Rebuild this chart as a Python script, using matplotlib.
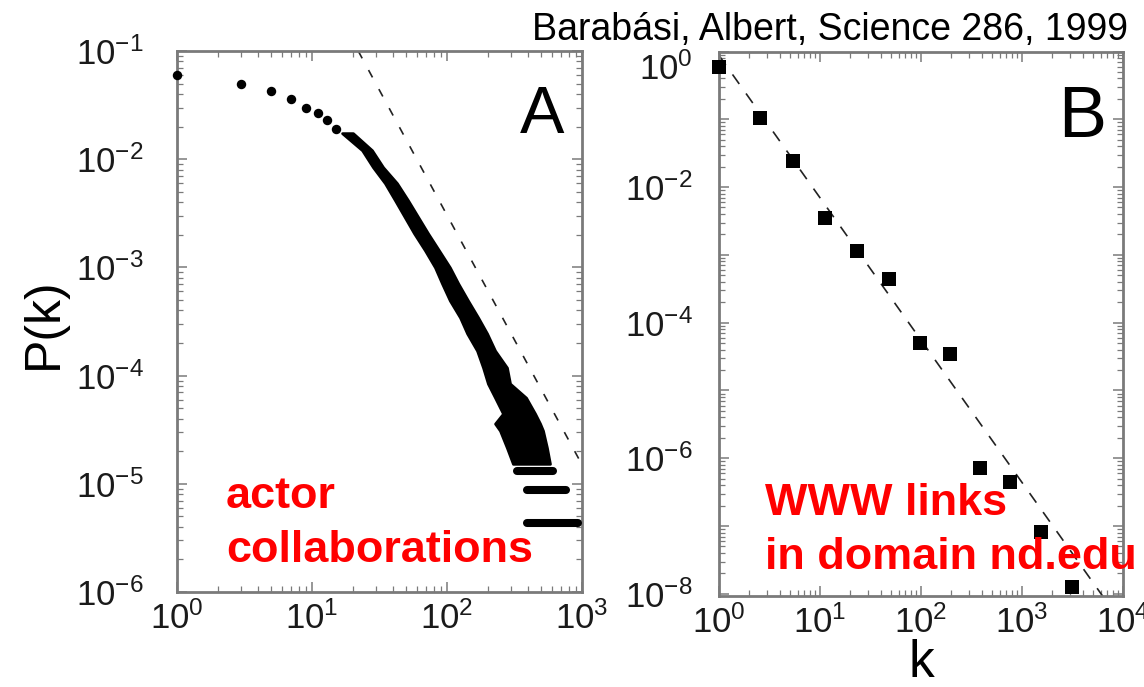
import matplotlib
matplotlib.use('Agg')
import matplotlib.pyplot as plt
import matplotlib.transforms as mtransforms
from matplotlib.ticker import FixedLocator, FuncFormatter, LogLocator, NullFormatter
import numpy as np

plt.rcParams['font.family'] = ['Liberation Sans', 'DejaVu Sans']
plt.rcParams['mathtext.fontset'] = 'custom'
plt.rcParams['mathtext.rm'] = 'Liberation Sans'
plt.rcParams['mathtext.default'] = 'regular'

# --- panel A: actor collaborations ---
actor_k = [1, 3, 5, 7, 9, 11, 13, 15]
actor_p = [0.060, 0.050, 0.0426, 0.0357, 0.0299, 0.0265, 0.0229, 0.0192]

# dense part of the distribution, read as left / right edge of the cloud at each P
band_p = [0.01741, 0.01211, 0.00843, 0.00600, 0.00417, 0.002065, 0.001436, 0.001,
          7.11e-4, 4.94e-4, 3.44e-4, 2.45e-4, 1.70e-4, 1.185e-4, 8.43e-5, 6.25e-5,
          4.45e-5, 3.60e-5, 3.10e-5, 2.15e-5, 1.53e-5]
band_k_lo = [16.7, 23.5, 28.3, 34.7, 41.2, 57.0, 68.7, 81.5, 91.8, 105, 125, 141,
             167, 185, 201, 227, 260, 227, 247, 278, 308]
band_k_hi = [20.1, 27.8, 33.6, 42.6, 51.4, 72.3, 87.2, 105, 121, 143, 170, 198,
             227, 278, 293, 385, 449, 489, 514, 550, 579]

# horizontal runs in the tail (1, 2 and 3 actors per degree)
tail_p = [4.35e-6, 8.7e-6, 1.3e-5]
tail_k_lo = [392, 392, 328]
tail_k_hi = [933, 755, 610]

# dashed power law, gamma ~ 2.3
fit_a_k = [22, 1000]
fit_a_p = [0.1, 1.5e-5]

# --- panel B: WWW links in nd.edu ---
www_k = [1, 2.52, 5.44, 11.3, 23.5, 47.9, 97.5, 193, 384, 760, 1530, 3150]
www_p = [0.60, 0.106, 0.0243, 0.00347, 0.00114, 4.37e-4, 5.0e-5, 3.4e-5,
         7.1e-7, 4.4e-7, 8.3e-8, 1.28e-8]

# dashed power law, gamma ~ 2.1
fit_b_k = [1, 1e4]
fit_b_p = [0.875, 3.5e-9]

W, H = 1144, 687
fig = plt.figure(figsize=(W / 100, H / 100), dpi=100)

spine_col = '#7a7a7a'


def px_axes(left, top, right, bottom):
    return fig.add_axes([left / W, 1 - bottom / H, (right - left) / W, (bottom - top) / H])


def style(ax, ypad):
    ax.set_xscale('log')
    ax.set_yscale('log')
    for s in ax.spines.values():
        s.set_color(spine_col)
        s.set_linewidth(2.0)
    ax.tick_params(which='both', direction='in', top=True, right=True,
                   color=spine_col, labelsize=25, labelcolor='#1a1a1a')
    ax.tick_params(which='major', length=7, width=1.1)
    ax.tick_params(which='minor', length=4, width=0.9)
    ax.tick_params(axis='y', pad=ypad)
    ax.tick_params(axis='x', pad=7)
    ax.xaxis.set_minor_locator(LogLocator(base=10, subs=range(2, 10), numticks=50))
    ax.yaxis.set_minor_locator(LogLocator(base=10, subs=range(2, 10), numticks=50))
    ax.xaxis.set_minor_formatter(NullFormatter())
    ax.yaxis.set_minor_formatter(NullFormatter())


def pow_label(v, pos):
    e = int(round(np.log10(v)))
    return r'$10^{%d}$' % e


# panel A
axA = px_axes(177, 51, 582, 592)
style(axA, 24)
axA.set_xlim(1, 1e3)
axA.set_ylim(1e-6, 1e-1)
axA.xaxis.set_major_locator(FixedLocator([1, 10, 100, 1000]))
axA.yaxis.set_major_locator(FixedLocator([1e-6, 1e-5, 1e-4, 1e-3, 1e-2, 1e-1]))
axA.xaxis.set_major_formatter(FuncFormatter(pow_label))
axA.yaxis.set_major_formatter(FuncFormatter(pow_label))

axA.plot(fit_a_k, fit_a_p, color='#222222', lw=1.2, ls=(0, (5, 8)), zorder=2)
axA.fill_betweenx(band_p, band_k_lo, band_k_hi, color='black', lw=2, zorder=3)
axA.plot(actor_k, actor_p, 'o', color='black', ms=6.8, mew=0, zorder=3, clip_on=False)
hl = axA.hlines(tail_p, tail_k_lo, tail_k_hi, colors='black', lw=5.8, zorder=3)
hl.set_capstyle('round')

fig.text(520 / W, 1 - 133 / H, 'A', fontsize=48, ha='left', va='baseline')

# panel B
axB = px_axes(719, 51.5, 1123, 596)
style(axB, 19)
axB.set_xlim(1, 1e4)
axB.set_ylim(9.3e-9, 1)
axB.xaxis.set_major_locator(FixedLocator([1, 10, 100, 1000, 1e4]))
axB.yaxis.set_major_locator(FixedLocator([10.0 ** e for e in range(-8, 1)]))
axB.xaxis.set_major_formatter(FuncFormatter(pow_label))
axB.yaxis.set_major_formatter(
    FuncFormatter(lambda v, pos: pow_label(v, pos) if int(round(np.log10(v))) % 2 == 0 else ''))

axB.plot(fit_b_k, fit_b_p, color='#222222', lw=1.2, ls=(0, (7, 7)), zorder=2)
axB.plot(www_k, www_p, 's', color='black', ms=10, mew=0, zorder=3, clip_on=False)

fig.text(1058 / W, 1 - 137 / H, 'B', fontsize=52, ha='left', va='baseline')

# labels and annotations
fig.text(44 / W, 1 - 323 / H, 'P(k)', rotation=90, fontsize=36, ha='center', va='center')
fig.text(921 / W, 1 - 677 / H, 'k', fontsize=37, ha='center', va='baseline')
fig.text(1128 / W, 1 - 40 / H, 'Barabási, Albert, Science 286, 1999', fontsize=27,
         ha='right', va='baseline')

red = '#ff0000'
fig.text(226 / W, 1 - 508 / H, 'actor', color=red, fontsize=32.4, fontweight='bold',
         ha='left', va='baseline')
fig.text(226 / W, 1 - 562 / H, 'collaborations', color=red, fontsize=32.4,
         fontweight='bold', ha='left', va='baseline')
fig.text(765 / W, 1 - 515 / H, 'WWW links', color=red, fontsize=32.4, fontweight='bold',
         ha='left', va='baseline')
fig.text(765 / W, 1 - 569 / H, 'in domain nd.edu', color=red, fontsize=32.4,
         fontweight='bold', ha='left', va='baseline')

# the top label of panel B sits a little lower, below the citation
fig.canvas.draw()
top_tick = axB.yaxis.get_major_ticks()[-1]
shift = mtransforms.ScaledTranslation(0, -0.15, fig.dpi_scale_trans)
top_tick.label1.set_transform(top_tick.label1.get_transform() + shift)

fig.savefig('out.png', dpi=100)
